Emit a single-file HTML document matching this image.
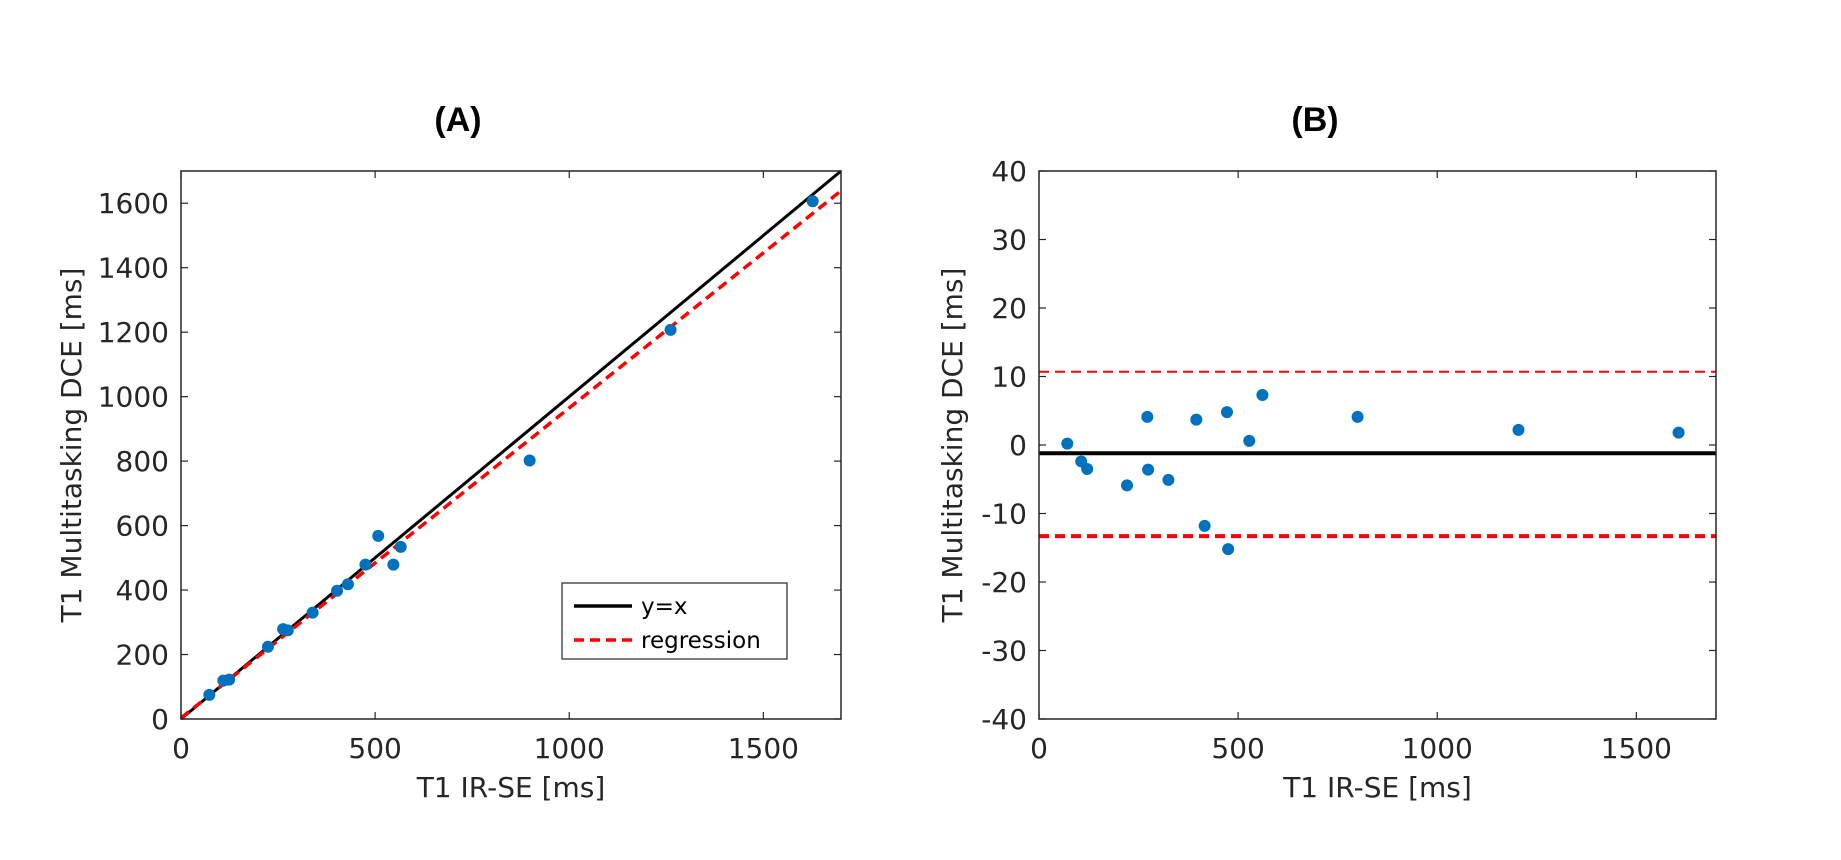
<!DOCTYPE html>
<html><head><meta charset="utf-8"><style>
html,body{margin:0;padding:0;background:#fff;}
svg{display:block;font-family:"DejaVu Sans","Liberation Sans",sans-serif;}
</style></head><body>
<svg id="fig" width="1841" height="860" viewBox="0 0 1841 860" xmlns="http://www.w3.org/2000/svg"></svg>
<script>
// Panel A data
const aX = [73,109,124,224,263,275,339,402,430,475,508,547,566,898,1261,1627];
const aY = [75,119,122,224,279,275,330,398,418,479,568,479,534,802,1207,1606];
const regSlope = 0.962;
const regIntercept = 3;
const aTicksX = [0,500,1000,1500];
const aTicksY = [0,200,400,600,800,1000,1200,1400,1600];
// Panel B data
const bX = [71,106,121,221,272,274,325,395,416,472,475,528,561,800,1204,1606];
const bY = [0.2,-2.4,-3.5,-5.9,4.1,-3.6,-5.1,3.7,-11.8,4.8,-15.2,0.6,7.3,4.1,2.2,1.8];
const bMean = -1.2;
const bUpper = 10.7;
const bLower = -13.3;
const bTicksX = [0,500,1000,1500];
const bTicksY = [-40,-30,-20,-10,0,10,20,30,40];

const NS="http://www.w3.org/2000/svg";
const svg=document.getElementById('fig');
function mk(tag,attrs,parent){const e=document.createElementNS(NS,tag);for(const k in attrs)e.setAttribute(k,attrs[k]);(parent||svg).appendChild(e);return e;}
function txt(s,attrs,parent){const e=mk('text',attrs,parent);e.textContent=s;return e;}

function panel(o){
  const g=mk('g',{});
  
  
  const sx=v=>o.l+(v-o.x0)/(o.x1-o.x0)*(o.r-o.l);
  const sy=v=>o.b-(v-o.y0)/(o.y1-o.y0)*(o.b-o.t);
  o.tx.forEach(v=>{
    const x=sx(v);
    mk('line',{x1:x,y1:o.b,x2:x,y2:o.b-7,stroke:'#262626','stroke-width':1.2},g);
    mk('line',{x1:x,y1:o.t,x2:x,y2:o.t+7,stroke:'#262626','stroke-width':1.2},g);
    const t=txt(String(v),{x:x,y:o.b+39,'text-anchor':'middle','font-size':28,fill:'#262626'},g);
    
    
  });
  o.ty.forEach(v=>{
    const y=sy(v);
    mk('line',{x1:o.l,y1:y,x2:o.l+7,y2:y,stroke:'#262626','stroke-width':1.2},g);
    mk('line',{x1:o.r,y1:y,x2:o.r-7,y2:y,stroke:'#262626','stroke-width':1.2},g);
    const t=txt(String(v),{x:o.l-12,y:y+10,'text-anchor':'end','font-size':28,fill:'#262626'},g);
    
    
  });
  o.draw(g,sx,sy);
  o.px.forEach((v,i)=>{
    const c=mk('circle',{cx:sx(v),cy:sy(o.py[i]),r:6,fill:'#0072BD'},g);
    
    
  });
  mk('rect',{x:o.l,y:o.t,width:o.r-o.l,height:o.b-o.t,fill:'none',stroke:'#262626','stroke-width':1.5},g);
  const tt=txt(o.title,{x:o.tcx,y:131,'text-anchor':'middle','font-size':34,'font-weight':'bold',fill:'#000','font-family':'"Liberation Sans",sans-serif'},g);
  
  
  const xl=txt('T1 IR-SE [ms]',{x:(o.l+o.r)/2,y:797,'text-anchor':'middle','font-size':28,fill:'#262626'},g);
  
  
  const cy=(o.t+o.b)/2;
  const yl=txt('T1 Multitasking DCE [ms]',{x:o.ylx,y:cy,'text-anchor':'middle','font-size':28,fill:'#262626',transform:`rotate(-90 ${o.ylx} ${cy})`},g);
  
  
}

panel({name:'panel-a',l:181,r:841,t:171,b:719,x0:0,x1:1700,y0:0,y1:1700,tx:aTicksX,ty:aTicksY,px:aX,py:aY,title:'(A)',tcx:458,ylx:81,
 draw:(g,sx,sy)=>{
  const idl=mk('line',{x1:sx(0),y1:sy(0),x2:sx(1700),y2:sy(1700),stroke:'#000','stroke-width':3},g);
  
  
  const rg=mk('line',{x1:sx(0),y1:sy(regIntercept),x2:sx(1700),y2:sy(regIntercept+regSlope*1700),stroke:'#ff0000','stroke-width':3.5,'stroke-dasharray':'10 6'},g);
  
  
 }});

panel({name:'panel-b',l:1039,r:1716,t:171,b:719,x0:0,x1:1700,y0:-40,y1:40,tx:bTicksX,ty:bTicksY,px:bX,py:bY,title:'(B)',tcx:1315,ylx:962,
 draw:(g,sx,sy)=>{
  const m=mk('line',{x1:sx(0),y1:sy(bMean),x2:sx(1700),y2:sy(bMean),stroke:'#000','stroke-width':4},g);
  
  
  const u=mk('line',{x1:sx(0),y1:sy(bUpper),x2:sx(1700),y2:sy(bUpper),stroke:'#ff0000','stroke-width':2,'stroke-dasharray':'10 6'},g);
  
  
  const lo=mk('line',{x1:sx(0),y1:sy(bLower),x2:sx(1700),y2:sy(bLower),stroke:'#ff0000','stroke-width':4,'stroke-dasharray':'10 6'},g);
  
  
 }});

const lg=mk('g',{});


mk('rect',{x:562,y:583,width:225,height:76,fill:'#fff',stroke:'#262626','stroke-width':1.2},lg);
mk('line',{x1:574,y1:606,x2:632,y2:606,stroke:'#000','stroke-width':3.5},lg);
mk('line',{x1:574,y1:640,x2:632,y2:640,stroke:'#ff0000','stroke-width':3.5,'stroke-dasharray':'10 6'},lg);
const l1=txt('y=x',{x:641,y:614,'font-size':23,fill:'#000'},lg);


const l2=txt('regression',{x:641,y:648,'font-size':23,fill:'#000'},lg);


</script>
</body></html>
